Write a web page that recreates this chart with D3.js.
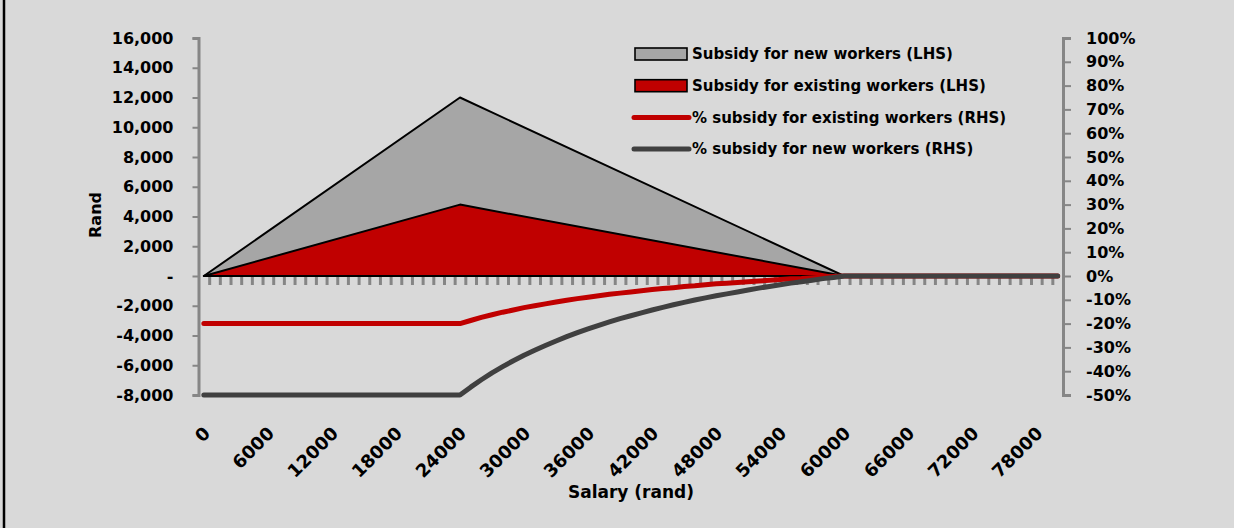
<!DOCTYPE html>
<html>
<head>
<meta charset="utf-8">
<script src="https://cdn.jsdelivr.net/npm/d3@7"></script>
<style>
  body { margin: 0; background: #d9d9d9; }
  svg { display: block; font-family: "DejaVu Sans", sans-serif; font-weight: bold; }
</style>
</head>
<body>
<svg id="chart"></svg>
<script>
// Data: salary (rand) break points for the two subsidy areas
const areaSalary = [0, 24000, 60000, 80000];
const newSubsidy = [0, 12000, 0, 0];
const existingSubsidy = [0, 4800, 0, 0];

// Data: % subsidy lines (RHS), read every 1000 rand along the curve
const pctSalary = [0, 24000, 25000, 26000, 27000, 28000, 29000, 30000, 31000, 32000, 33000,
    34000, 35000, 36000, 37000, 38000, 39000, 40000, 41000, 42000, 43000, 44000, 45000,
    46000, 47000, 48000, 49000, 50000, 51000, 52000, 53000, 54000, 55000, 56000, 57000,
    58000, 59000, 60000, 80000];
const pctExisting = [-20, -20, -18.7, -17.4, -16.3, -15.2, -14.3, -13.3, -12.5, -11.7, -10.9,
    -10.2, -9.5, -8.9, -8.3, -7.7, -7.2, -6.7, -6.2, -5.7, -5.3, -4.9, -4.4,
    -4.1, -3.7, -3.3, -3.0, -2.7, -2.4, -2.1, -1.8, -1.5, -1.2, -1.0, -0.7,
    -0.5, -0.2, 0, 0];
const pctNew = [-50, -50, -46.7, -43.6, -40.7, -38.1, -35.6, -33.3, -31.2, -29.2, -27.3,
    -25.5, -23.8, -22.2, -20.7, -19.3, -17.9, -16.7, -15.5, -14.3, -13.2, -12.1, -11.1,
    -10.1, -9.2, -8.3, -7.5, -6.7, -5.9, -5.1, -4.4, -3.7, -3.0, -2.4, -1.8,
    -1.1, -0.6, 0, 0];

// Tick labels
const xTickLabels = [0, 6000, 12000, 18000, 24000, 30000, 36000, 42000, 48000, 54000,
    60000, 66000, 72000, 78000];
const yLeftTicks = [-8000, -6000, -4000, -2000, 0, 2000, 4000, 6000, 8000, 10000, 12000, 14000, 16000];
const yRightTicks = [-0.5, -0.4, -0.3, -0.2, -0.1, 0, 0.1, 0.2, 0.3, 0.4, 0.5, 0.6, 0.7, 0.8, 0.9, 1.0];

const legendItems = [
    { label: "Subsidy for new workers (LHS)", type: "rect", color: "#a6a6a6" },
    { label: "Subsidy for existing workers (LHS)", type: "rect", color: "#c00000" },
    { label: "% subsidy for existing workers (RHS)", type: "line", color: "#c00000" },
    { label: "% subsidy for new workers (RHS)", type: "line", color: "#404040" }
];

const width = 1234;
const height = 528;
const plot = { left: 198.5, right: 1063, top: 38, bottom: 395 };
const axisColor = "#868686";

const svg = d3.select("#chart")
    .attr("width", width)
    .attr("height", height);

// left frame line
svg.append("line")
    .attr("x1", 4).attr("x2", 4).attr("y1", 0).attr("y2", height)
    .attr("stroke", "#000").attr("stroke-width", 2.5);

// Scales (category axis 0..80000 in steps of 1000, points centred in their slot)
const x = d3.scaleLinear()
    .domain([-500, 80500])
    .range([plot.left, plot.right]);

const yL = d3.scaleLinear()
    .domain([-8000, 16000])
    .range([plot.bottom, plot.top]);

const yR = d3.scaleLinear()
    .domain([-0.5, 1.0])
    .range([plot.bottom, plot.top]);

// Areas
const area = d3.area()
    .x(d => x(d[0]))
    .y0(yL(0))
    .y1(d => yL(d[1]));

svg.append("path")
    .datum(areaSalary.map((s, i) => [s, newSubsidy[i]]))
    .attr("d", area)
    .attr("fill", "#a6a6a6")
    .attr("stroke", "#000")
    .attr("stroke-width", 2)
    .attr("stroke-linejoin", "round");

svg.append("path")
    .datum(areaSalary.map((s, i) => [s, existingSubsidy[i]]))
    .attr("d", area)
    .attr("fill", "#c00000")
    .attr("stroke", "#000")
    .attr("stroke-width", 2)
    .attr("stroke-linejoin", "round");

// X axis: small tick marks between categories, hanging below zero
const boundaries = d3.range(500, 80000, 1000);
const xAxis = svg.append("g")
    .attr("transform", `translate(0,${yL(0) + 1})`)
    .call(d3.axisBottom(x).tickValues(boundaries).tickSize(8).tickFormat(""));
xAxis.select(".domain").remove();
xAxis.selectAll(".tick line").attr("stroke", axisColor).attr("stroke-width", 3);

// Lines
const line = d3.line()
    .x(d => x(d[0]))
    .y(d => yR(d[1] / 100));

svg.append("path")
    .datum(pctSalary.map((s, i) => [s, pctExisting[i]]))
    .attr("d", line)
    .attr("fill", "none")
    .attr("stroke", "#c00000")
    .attr("stroke-width", 5)
    .attr("stroke-linejoin", "round")
    .attr("stroke-linecap", "round");

svg.append("path")
    .datum(pctSalary.map((s, i) => [s, pctNew[i]]))
    .attr("d", line)
    .attr("fill", "none")
    .attr("stroke", "#404040")
    .attr("stroke-width", 5)
    .attr("stroke-linejoin", "round")
    .attr("stroke-linecap", "round");

// Y axes (plain hyphen for negatives, as in the original)
const fmtLeft = d => d === 0 ? "-" : d3.format(",")(d).replace("\u2212", "-");
const fmtRight = d => Math.round(d * 100) + "%";

function styleAxis(g) {
    g.select(".domain").attr("stroke", axisColor).attr("stroke-width", 3);
    g.selectAll(".tick line").attr("stroke", axisColor).attr("stroke-width", 2);
    g.selectAll(".tick text")
        .attr("fill", "#000")
        .style("font-size", "16px")
        .style("font-family", "'DejaVu Sans', sans-serif")
        .style("font-weight", "bold");
}

svg.append("g")
    .attr("transform", `translate(${plot.left},0)`)
    .call(d3.axisLeft(yL).tickValues(yLeftTicks).tickFormat(fmtLeft)
        .tickSize(6).tickSizeOuter(6).tickPadding(19))
    .call(styleAxis);

svg.append("g")
    .attr("transform", `translate(${plot.right},0)`)
    .call(d3.axisRight(yR).tickValues(yRightTicks).tickFormat(fmtRight)
        .tickSize(8).tickSizeOuter(8).tickPadding(15))
    .call(styleAxis);

// X labels, rotated
svg.append("g")
    .selectAll("text")
    .data(xTickLabels)
    .join("text")
    .attr("transform", d => `translate(${x(d) + 3},${430}) rotate(-45)`)
    .attr("text-anchor", "end")
    .attr("dy", "0.35em")
    .style("font-size", "18px")
    .text(d => d);

// Axis titles
svg.append("text")
    .attr("x", 631)
    .attr("y", 498)
    .attr("text-anchor", "middle")
    .style("font-size", "17px")
    .text("Salary (rand)");

svg.append("text")
    .attr("transform", "translate(101,215) rotate(-90)")
    .attr("text-anchor", "middle")
    .style("font-size", "16px")
    .text("Rand");

// Legend
const legend = svg.append("g");
legendItems.forEach((item, i) => {
    const cy = 54 + i * 31.7;
    if (item.type === "rect") {
        legend.append("rect")
            .attr("x", 635).attr("y", cy - 6)
            .attr("width", 52).attr("height", 12)
            .attr("fill", item.color)
            .attr("stroke", "#000")
            .attr("stroke-width", 1.6);
    } else {
        legend.append("line")
            .attr("x1", 634).attr("x2", 689)
            .attr("y1", cy).attr("y2", cy)
            .attr("stroke", item.color)
            .attr("stroke-width", 5)
            .attr("stroke-linecap", "round");
    }
    legend.append("text")
        .attr("x", 692)
        .attr("y", cy)
        .attr("dy", "0.35em")
        .style("font-size", "15px")
        .text(item.label);
});
</script>
</body>
</html>
